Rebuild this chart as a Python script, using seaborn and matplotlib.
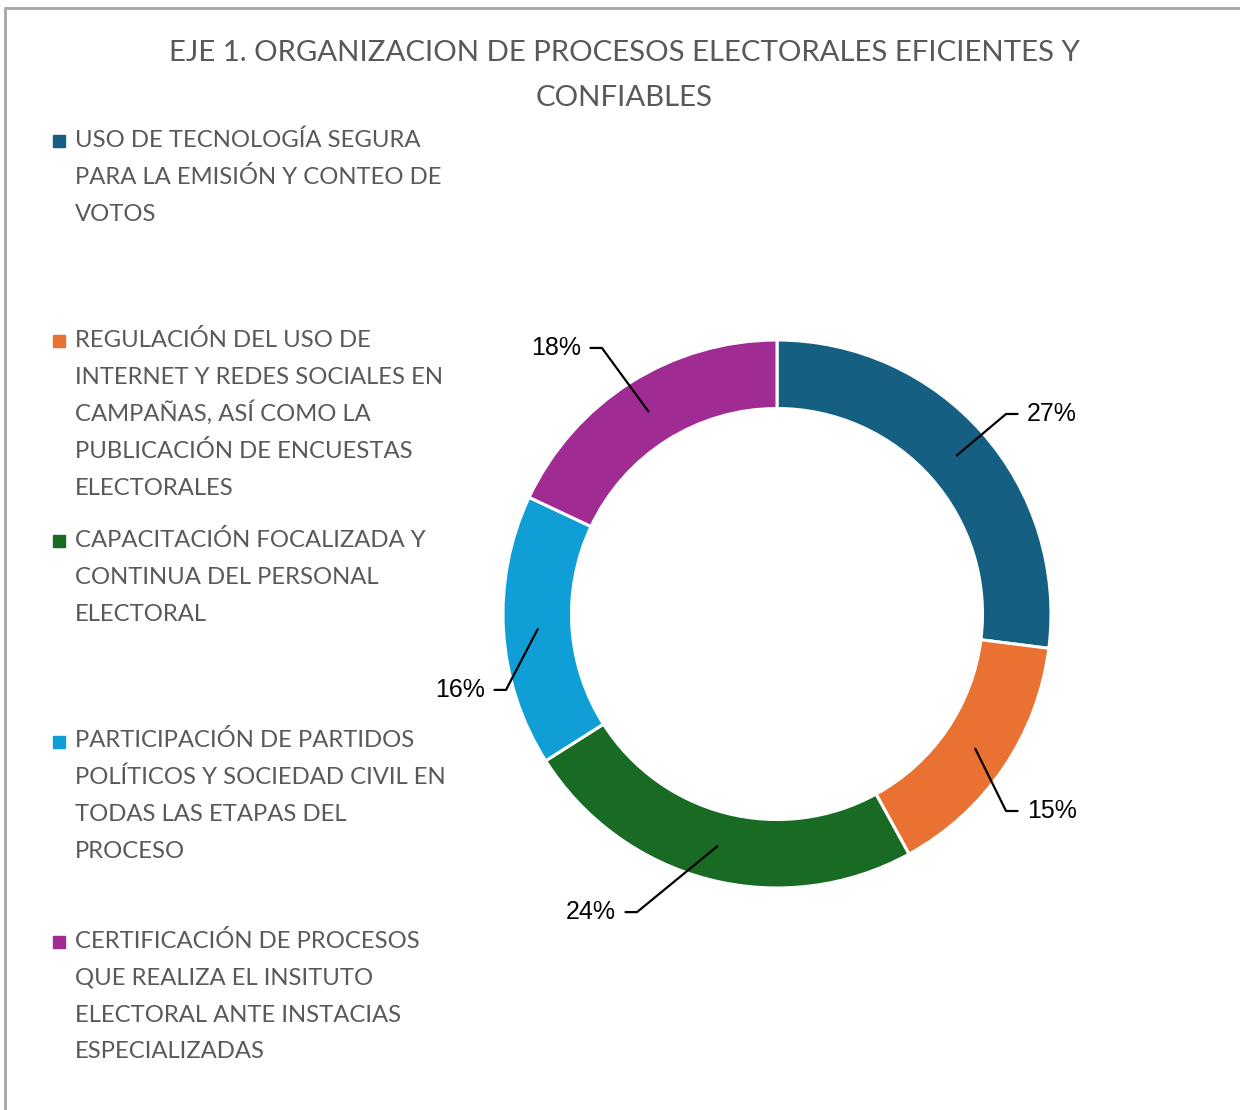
import numpy as np
import matplotlib
matplotlib.use("Agg")
import matplotlib.pyplot as plt
import seaborn as sns
from matplotlib.lines import Line2D
from matplotlib.patches import Rectangle

# data
categories = [
    "USO DE TECNOLOGÍA SEGURA\nPARA LA EMISIÓN Y CONTEO DE\nVOTOS",
    "REGULACIÓN DEL USO DE\nINTERNET Y REDES SOCIALES EN\nCAMPAÑAS, ASÍ COMO LA\nPUBLICACIÓN DE ENCUESTAS\nELECTORALES",
    "CAPACITACIÓN FOCALIZADA Y\nCONTINUA DEL PERSONAL\nELECTORAL",
    "PARTICIPACIÓN DE PARTIDOS\nPOLÍTICOS Y SOCIEDAD CIVIL EN\nTODAS LAS ETAPAS DEL\nPROCESO",
    "CERTIFICACIÓN DE PROCESOS\nQUE REALIZA EL INSITUTO\nELECTORAL ANTE INSTACIAS\nESPECIALIZADAS",
]
values = [27, 15, 24, 16, 18]
colors = ["#156082", "#E97132", "#196B24", "#0F9ED5", "#A02B93"]
title_lines = ["EJE 1. ORGANIZACION DE PROCESOS ELECTORALES EFICIENTES Y", "CONFIABLES"]

# leader-line elbows (data units, 1 = outer radius) and label side
label_elbow = [(0.836, 0.730, 1), (0.836, -0.719, 1), (-0.511, -1.088, -1),
               (-0.989, -0.277, -1), (-0.639, 0.971, -1)]

sns.set_theme(style="white")
plt.rcParams["font.family"] = ["Lato", "DejaVu Sans"]
grey = "#595959"

W, H = 1240, 1110
fig = plt.figure(figsize=(W / 100, H / 100), dpi=100)
ax = fig.add_axes([503 / W, 222 / H, 548 / W, 548 / H])

wedges, _ = ax.pie(values, colors=sns.color_palette(colors), startangle=90,
                   counterclock=False, radius=1,
                   wedgeprops=dict(width=0.25, edgecolor="white", linewidth=2.2))
ax.set_xlim(-1, 1)
ax.set_ylim(-1, 1)
ax.set_aspect("equal")
ax.axis("off")

total = sum(values)
cum = np.cumsum([0] + values)
for i, v in enumerate(values):
    mid = np.deg2rad(90 - 360 * (cum[i] + v / 2) / total)
    sx, sy = 0.875 * np.cos(mid), 0.875 * np.sin(mid)
    ex, ey, side = label_elbow[i]
    hx = ex + side * 0.042
    ax.add_line(Line2D([sx, ex, hx], [sy, ey, ey], color="black", lw=1.6,
                       clip_on=False))
    ax.text(hx + side * 0.035, ey, f"{v / total:.0%}", ha="left" if side > 0 else "right",
            va="center", fontsize=18, family=["Liberation Sans", "DejaVu Sans"],
            color="black", clip_on=False)

for k, line in enumerate(title_lines):
    fig.text(624 / W, 1 - (61 + 45 * k) / H, line, ha="center", va="baseline",
             fontsize=21.2, color=grey)

# legend, one block per category
for i, lab in enumerate(categories):
    y0 = 138 + 200.2 * i
    for k, line in enumerate(lab.split("\n")):
        fig.text(75 / W, 1 - (y0 + 8.7 + 37 * k) / H, line, ha="left", va="baseline",
                 fontsize=17.2, color=grey)
    fig.patches.append(Rectangle((53 / W, 1 - (y0 + 9) / H), 12 / W, 12 / H,
                                 transform=fig.transFigure, color=colors[i]))

# chart frame
fig.add_artist(Line2D([5 / W, 5 / W], [0, 1 - 8 / H], color="#A6A6A6", lw=2,
                      transform=fig.transFigure))
fig.add_artist(Line2D([5 / W, 1], [1 - 8 / H, 1 - 8 / H], color="#A6A6A6", lw=2,
                      transform=fig.transFigure))

fig.savefig("out.png", dpi=100, facecolor="white")
